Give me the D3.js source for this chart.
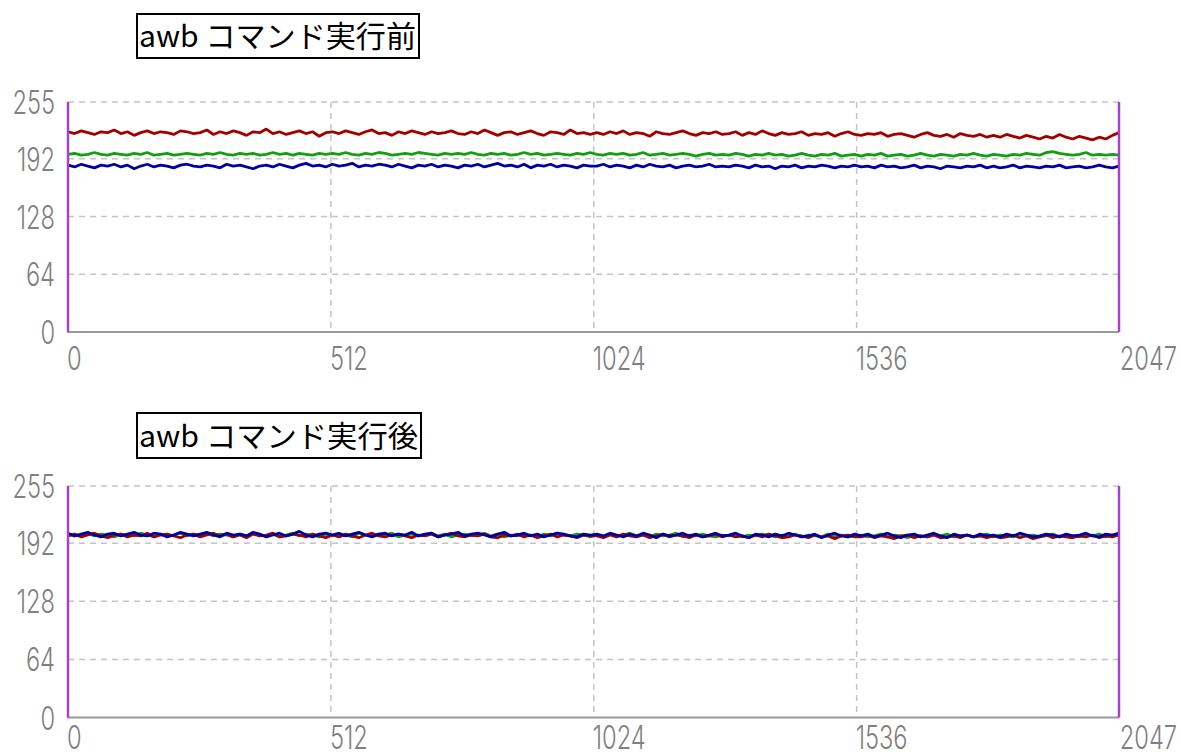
<!DOCTYPE html>
<html>
<head>
<meta charset="utf-8">
<script src="https://cdn.jsdelivr.net/npm/d3@7"></script>
<style>
  html, body { margin: 0; padding: 0; background: #fff; }
  svg { display: block; }
</style>
</head>
<body>
<svg id="chart" width="1181" height="756"></svg>
<script>
const yTicks = [0, 64, 128, 192, 255];
const xTicks = [0, 512, 1024, 1536, 2047];
const titles = ['awb コマンド実行前', 'awb コマンド実行後'];
const seriesNames = ['R', 'G', 'B'];

// before awb
const beforeR = [
  222,220,223,221,219,222,221,224,220,222,218,221,223,220,222,221,219,223,222,220,
  221,224,219,222,220,223,221,218,222,221,225,220,222,219,221,223,220,222,217,221,
  222,220,223,221,219,222,224,220,221,218,222,220,223,221,219,222,220,221,223,220,
  219,222,220,224,221,218,221,222,219,221,223,220,218,222,221,219,224,220,221,219,
  221,219,222,220,223,219,221,220,217,222,220,219,221,223,220,218,221,220,222,219,
  220,222,218,221,219,223,220,218,221,219,220,222,218,220,219,221,217,220,222,219,
  218,220,219,221,217,219,220,218,216,219,221,218,217,219,216,220,218,217,219,216,
  218,216,219,217,215,218,216,214,217,215,219,216,214,217,215,213,216,214,218,221
];
const beforeG = [
  197,198,196,197,199,197,196,198,197,196,198,197,199,196,197,198,196,197,198,197,
  196,198,197,199,197,196,198,197,198,196,197,199,197,198,196,198,197,196,198,197,
  198,197,199,197,196,198,197,199,198,196,197,198,197,199,198,197,196,198,197,198,
  197,199,197,196,198,197,198,196,197,199,197,198,196,197,198,197,196,198,197,199,
  197,196,198,197,198,196,197,199,196,197,198,196,197,198,197,195,197,198,196,197,
  196,198,197,195,197,196,198,196,197,195,196,198,196,195,197,196,198,195,196,197,
  195,197,196,198,195,196,197,195,196,198,196,195,197,196,195,197,196,198,196,195,
  197,196,195,197,196,198,197,196,199,200,198,197,196,197,199,196,197,196,197,196
];
const beforeB = [
  185,183,186,184,182,185,184,186,183,185,181,184,186,183,185,184,182,185,186,184,
  183,185,184,182,186,184,185,183,181,184,185,183,186,184,182,185,187,184,185,183,
  186,184,185,187,183,185,184,186,185,183,186,184,182,185,184,186,183,185,184,182,
  185,184,186,183,185,187,184,185,183,186,182,185,184,186,183,185,184,182,185,184,
  184,186,183,185,184,182,185,183,186,184,183,185,182,184,185,183,184,186,183,184,
  183,185,184,182,185,183,184,181,184,183,185,182,184,183,185,184,182,184,183,185,
  183,184,182,185,183,184,182,183,185,182,184,183,181,184,183,182,184,183,185,182,
  184,182,183,185,182,184,183,182,184,183,185,182,183,184,182,183,185,183,182,184
];

// after awb
const afterR = [
  200,202,199,201,203,200,198,201,202,199,201,200,203,199,201,202,200,198,201,202,
  199,201,203,200,202,199,201,198,202,200,201,203,199,200,202,201,199,202,200,198,
  201,199,202,200,198,201,203,200,199,201,202,200,198,201,200,202,199,201,203,200,
  199,201,200,202,199,198,201,200,202,199,201,198,200,202,199,201,200,198,201,200,
  200,198,201,199,202,200,199,201,198,200,202,199,201,200,198,201,199,200,202,199,
  201,199,200,198,201,199,202,200,198,199,201,200,198,201,199,200,197,200,201,199,
  199,201,198,200,199,197,200,201,198,200,199,201,198,199,200,198,201,199,200,198,
  200,198,199,201,198,200,197,199,201,198,200,199,198,200,199,201,198,200,199,201
];
const afterG = [
  202,200,201,203,200,202,201,199,202,201,200,203,201,199,202,200,201,203,200,202,
  201,203,200,202,201,199,202,200,203,201,200,202,199,201,203,200,202,201,199,202,
  200,202,201,199,203,201,200,202,201,203,199,201,202,200,201,203,200,202,199,201,
  202,200,201,203,200,202,199,201,200,202,201,199,202,200,203,201,200,202,201,199,
  201,199,202,200,201,203,200,201,199,202,200,201,203,199,201,200,202,200,199,201,
  200,202,199,201,200,202,201,199,201,200,202,199,201,200,199,202,200,201,199,200,
  201,199,200,202,199,201,200,198,201,200,199,201,200,202,199,200,201,199,200,202,
  199,201,200,199,202,200,201,199,200,202,199,201,200,199,201,200,202,199,201,200
];
const afterB = [
  203,200,202,204,201,199,202,203,200,202,204,201,200,203,202,199,201,204,202,200,
  202,204,201,199,203,201,202,200,204,202,199,201,203,200,202,205,201,199,202,203,
  201,203,200,202,204,201,199,202,203,200,202,201,204,200,202,203,199,201,202,204,
  200,202,203,201,199,202,204,200,201,203,200,202,199,201,203,202,200,199,202,201,
  202,200,203,201,199,202,200,203,201,198,202,200,201,203,200,202,199,201,203,200,
  201,203,200,198,202,201,199,202,200,203,201,199,200,202,198,201,203,200,199,202,
  200,202,199,201,203,200,198,201,202,199,201,203,200,198,202,200,201,199,202,200,
  201,199,202,200,203,201,199,200,202,201,199,202,200,201,203,200,199,202,201,203
];

const colors = { R: '#a00000', G: '#10a010', B: '#0000a0' };

const panels = [
  { title: titles[0], box: [137, 14, 282, 44], top: 102, bottom: 332, labelY: 370,
    series: { R: beforeR, G: beforeG, B: beforeB }, order: ['R', 'G', 'B'] },
  { title: titles[1], box: [137, 413, 284, 45], top: 486, bottom: 717.5, labelY: 749,
    series: { R: afterR, G: afterG, B: afterB }, order: ['G', 'R', 'B'] }
];

const plotLeft = 68, plotRight = 1119;
const svg = d3.select('#chart');

const x = d3.scaleLinear().domain([0, 2047]).range([plotLeft, plotRight]);

function drawPanel(p) {
  const g = svg.append('g');
  const y = d3.scaleLinear().domain([0, 255]).range([p.bottom, p.top]);

  // title box
  const [bx, by, bw, bh] = p.box;
  g.append('rect')
    .attr('x', bx).attr('y', by).attr('width', bw).attr('height', bh)
    .attr('fill', 'none').attr('stroke', '#000').attr('stroke-width', 2);
  g.append('text')
    .attr('x', bx + 2).attr('y', by + bh / 2 + 11)
    .attr('textLength', bw - 5).attr('lengthAdjust', 'spacingAndGlyphs')
    .style('font-family', '"Noto Sans CJK JP", sans-serif')
    .style('font-size', '30px')
    .attr('fill', '#000')
    .text(p.title);

  // horizontal grid (dashed)
  g.selectAll('.hgrid')
    .data(yTicks.filter(d => d > 0))
    .join('line')
    .attr('x1', plotLeft).attr('x2', plotRight)
    .attr('y1', d => y(d)).attr('y2', d => y(d))
    .attr('stroke', '#c4c4c4').attr('stroke-width', 1.5)
    .attr('stroke-dasharray', '6,5');

  // vertical grid (dashed)
  g.selectAll('.vgrid')
    .data(xTicks.slice(1, -1))
    .join('line')
    .attr('x1', d => x(d)).attr('x2', d => x(d))
    .attr('y1', p.top).attr('y2', p.bottom)
    .attr('stroke', '#c4c4c4').attr('stroke-width', 1.5)
    .attr('stroke-dasharray', '6,5');

  // series
  p.order.forEach(k => {
    const vals = p.series[k];
    const n = vals.length;
    const line = d3.line()
      .x((d, i) => x(i * 2047 / (n - 1)))
      .y(d => y(d));
    g.append('path')
      .datum(vals)
      .attr('fill', 'none')
      .attr('stroke', colors[k])
      .attr('stroke-width', 2.8)
      .attr('stroke-linejoin', 'bevel')
      .attr('d', line);
  });

  // axes frame
  g.append('line')
    .attr('x1', plotLeft - 1).attr('x2', plotRight)
    .attr('y1', p.bottom).attr('y2', p.bottom)
    .attr('stroke', '#999').attr('stroke-width', 2);
  [plotLeft, plotRight].forEach(xx => {
    g.append('line')
      .attr('x1', xx).attr('x2', xx)
      .attr('y1', p.top).attr('y2', p.bottom)
      .attr('stroke', '#a444c4').attr('stroke-width', 2.5);
  });

  // tick labels: narrow digits via horizontal squeeze
  const squeeze = 0.74;
  const tickStyle = sel => sel
    .style('font-family', 'Inter, "Liberation Sans", sans-serif')
    .style('font-size', '32px')
    .style('font-weight', 300)
    .attr('fill', '#808080');

  g.selectAll('.ylab')
    .data(yTicks)
    .join('text')
    .attr('transform', d => `translate(55,${y(d) + 12}) scale(${squeeze},1)`)
    .attr('text-anchor', 'end')
    .call(tickStyle)
    .text(d => d);

  // last x label is pulled in so it stays inside the page
  g.selectAll('.xlab')
    .data(xTicks)
    .join('text')
    .attr('transform', d => `translate(${d === 2047 ? 1177 : x(d) - 1},${p.labelY}) scale(${squeeze},1)`)
    .attr('text-anchor', d => d === 2047 ? 'end' : 'start')
    .call(tickStyle)
    .text(d => d);
}

panels.forEach(drawPanel);
</script>
</body>
</html>
